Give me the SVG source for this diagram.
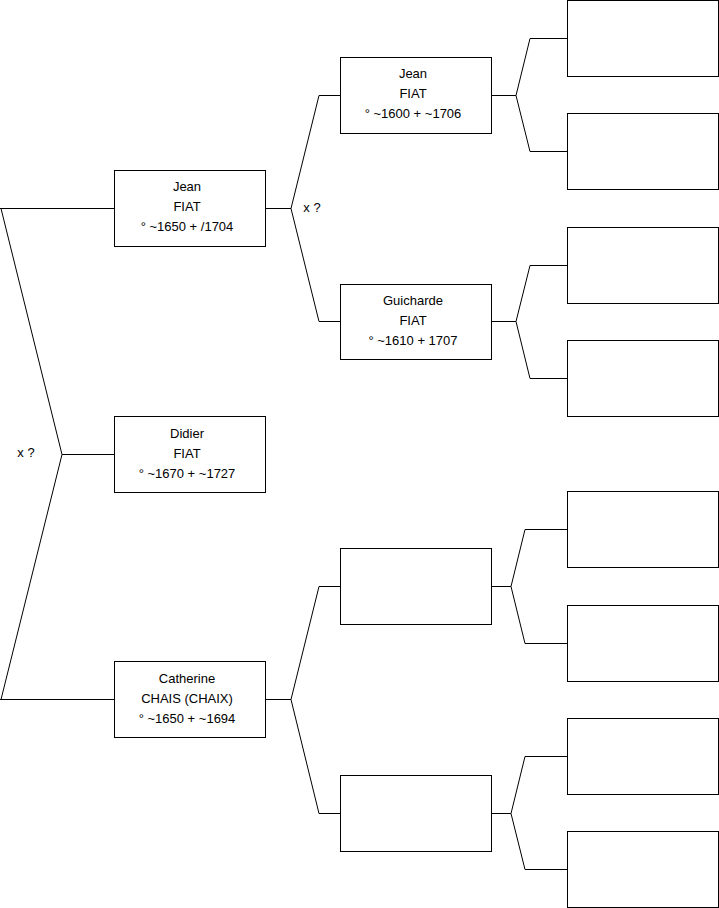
<svg xmlns="http://www.w3.org/2000/svg" width="719" height="908" viewBox="0 0 719 908">
<style>
.box{fill:#fff;stroke:#000;stroke-width:1}
.ln{fill:none;stroke:#000;stroke-width:1}
text{font-family:"Liberation Sans",Arial,sans-serif;font-size:13px;fill:#000;text-anchor:middle}
</style>
<rect width="719" height="908" fill="#fff"/>
<g id="connectors">
<path class="ln" d="M0,208.5 H114.5 M1,208.5 L62,454.5 L1,699.5 M0,699.5 H114.5 M62,454.5 H114.5"/>
<path class="ln" d="M265.5,208.5 H291 M319,95.5 L291,208.5 L319,321.5 M319,95.5 H340.5 M319,321.5 H340.5"/>
<path class="ln" d="M265.5,699.5 H291 M319,586.5 L291,699.5 L319,813.5 M319,586.5 H340.5 M319,813.5 H340.5"/>
<path class="ln" d="M491.5,95.5 H516 M530,38.5 L516,95.5 L530,151.5 M530,38.5 H567.5 M530,151.5 H567.5"/>
<path class="ln" d="M491.5,321.5 H516 M530,265.5 L516,321.5 L530,378.5 M530,265.5 H567.5 M530,378.5 H567.5"/>
<path class="ln" d="M491.5,586.5 H511 M525,529.5 L511,586.5 L525,643.5 M525,529.5 H567.5 M525,643.5 H567.5"/>
<path class="ln" d="M491.5,813.5 H511 M525,756.5 L511,813.5 L525,869.5 M525,756.5 H567.5 M525,869.5 H567.5"/>
<text x="26" y="456.5">x ?</text>
<text x="312" y="211.5">x ?</text>
</g>
<g id="jean1650">
<rect class="box" x="114.5" y="170.5" width="151" height="76"/>
<text x="187" y="191">Jean</text>
<text x="187" y="211">FIAT</text>
<text x="187" y="231">° ~1650 + /1704</text>
</g>
<g id="didier">
<rect class="box" x="114.5" y="416.5" width="151" height="76"/>
<text x="187" y="437.5">Didier</text>
<text x="187" y="457.5">FIAT</text>
<text x="187" y="477.5">° ~1670 + ~1727</text>
</g>
<g id="catherine">
<rect class="box" x="114.5" y="661.5" width="151" height="76"/>
<text x="187" y="682.5">Catherine</text>
<text x="187" y="702.5">CHAIS (CHAIX)</text>
<text x="187" y="722.5">° ~1650 + ~1694</text>
</g>
<g id="jean1600">
<rect class="box" x="340.5" y="57.5" width="151" height="76"/>
<text x="413" y="78">Jean</text>
<text x="413" y="98">FIAT</text>
<text x="413" y="118">° ~1600 + ~1706</text>
</g>
<g id="guicharde">
<rect class="box" x="340.5" y="284.5" width="151" height="75"/>
<text x="413" y="305">Guicharde</text>
<text x="413" y="325">FIAT</text>
<text x="413" y="345">° ~1610 + 1707</text>
</g>
<g id="g2c"><rect class="box" x="340.5" y="548.5" width="151" height="76"/></g>
<g id="g2d"><rect class="box" x="340.5" y="775.5" width="151" height="76"/></g>
<g id="g3a"><rect class="box" x="567.5" y="0.5" width="151" height="76"/></g>
<g id="g3b"><rect class="box" x="567.5" y="113.5" width="151" height="76"/></g>
<g id="g3c"><rect class="box" x="567.5" y="227.5" width="151" height="76"/></g>
<g id="g3d"><rect class="box" x="567.5" y="340.5" width="151" height="76"/></g>
<g id="g3e"><rect class="box" x="567.5" y="491.5" width="151" height="76"/></g>
<g id="g3f"><rect class="box" x="567.5" y="605.5" width="151" height="76"/></g>
<g id="g3g"><rect class="box" x="567.5" y="718.5" width="151" height="76"/></g>
<g id="g3h"><rect class="box" x="567.5" y="831.5" width="151" height="76"/></g>
</svg>
